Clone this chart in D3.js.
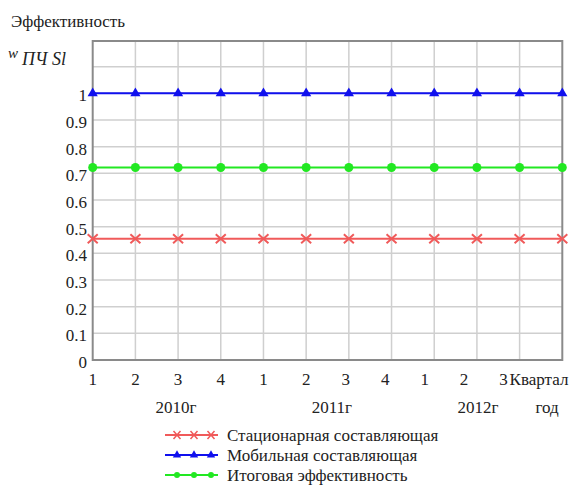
<!DOCTYPE html>
<html><head><meta charset="utf-8">
<script src="https://cdn.jsdelivr.net/npm/d3@7"></script>
<style>body{margin:0;background:#fff}svg{display:block}svg text,svg tspan{font-family:'Liberation Serif','Times New Roman',serif !important}</style>
</head><body>
<svg id="c" width="587" height="495"></svg>
<script>
// ---- data ----
const periods = [1,2,3,4,5,6,7,8,9,10,11,12];
const quarterLabels = ["1","2","3","4","1","2","3","4","1","2","3"];
const yearLabels = ["2010г","2011г","2012г"];
const yTicks = [0,0.1,0.2,0.3,0.4,0.5,0.6,0.7,0.8,0.9,1];
const stationary = [0.455,0.455,0.455,0.455,0.455,0.455,0.455,0.455,0.455,0.455,0.455,0.455];
const mobile = [1,1,1,1,1,1,1,1,1,1,1,1];
const total = [0.722,0.722,0.722,0.722,0.722,0.722,0.722,0.722,0.722,0.722,0.722,0.722];
const seriesNames = ["Стационарная составляющая","Мобильная составляющая","Итоговая эффективность"];

const svg = d3.select("#c");
const FF = "'Liberation Serif', 'Times New Roman', serif";
const L=92.7,R=562.3,T=41,B=360;
const x = d3.scaleLinear().domain([1,12]).range([L,R]);
const y = d3.scaleLinear().domain([0,1.2]).range([B,40]);
const TXT="#222";
function txt(sel){ return sel.attr("font-family",FF).style("font-family",FF,"important").attr("fill",TXT); }

// grid
const grid = svg.append("g").attr("stroke","#cfcfcf").attr("stroke-width",1.5);
grid.selectAll("line.v").data(periods.slice(1,11)).enter().append("line")
  .attr("x1",d=>x(d)).attr("x2",d=>x(d)).attr("y1",T).attr("y2",B);
grid.selectAll("line.h").data(d3.range(1,12).map(i=>i/10)).enter().append("line")
  .attr("x1",L).attr("x2",R).attr("y1",d=>y(d)).attr("y2",d=>y(d));

// frame
svg.append("rect").attr("x",L).attr("y",T).attr("width",R-L).attr("height",B-T)
  .attr("fill","none").attr("stroke","#8a8a8a").attr("stroke-width",2);

// title
txt(svg.append("text").attr("x",11).attr("y",27).attr("font-size",17)).text("Эффективность");

// y tick labels
txt(svg.append("g").selectAll("text").data(yTicks).enter().append("text")
  .attr("x",87).attr("y",d=>y(d)+8).attr("text-anchor","end")
  .attr("font-size",17)).text(d=>d===0||d===1?String(d):d3.format(".1f")(d));

// x labels (manually spaced row like original)
const lab = d3.scaleLinear().domain([1,6,11]).range([x(1),x(6),x(11)-16]);
txt(svg.append("g").selectAll("text").data(quarterLabels).enter().append("text")
  .attr("x",(d,i)=>lab(i+1)).attr("y",385).attr("text-anchor","middle")
  .attr("font-size",17)).text(d=>d);
txt(svg.append("text").attr("x",lab(11)+6).attr("y",385).attr("font-size",17)).text("Квартал");
const yearPos=[2.95,6.65,10.35];
txt(svg.append("g").selectAll("text").data(yearLabels).enter().append("text")
  .attr("x",(d,i)=>lab(yearPos[i])).attr("y",413).attr("text-anchor","middle")
  .attr("font-size",17)).text(d=>d);
txt(svg.append("text").attr("x",547).attr("y",413).attr("text-anchor","middle").attr("font-size",17)).text("год");

// axis name
const wl = txt(svg.append("text").attr("x",8).attr("y",58).attr("font-style","italic"));
wl.append("tspan").attr("font-size",15).text("w");
wl.append("tspan").attr("font-size",18).attr("dx",4).attr("dy",7).text("ПЧ Sl");

// series
const colors = ["#f05a5a","#1010ee","#22e822"];
const allSeries = [stationary,mobile,total];
const line = d3.line().x((d,i)=>x(periods[i])).y(d=>y(d));
function marker(g,type,color,cx,cy){
  if(type===0){
    g.append("path").attr("d",`M${cx-5},${cy-4.5}L${cx+5},${cy+4.5}M${cx-5},${cy+4.5}L${cx+5},${cy-4.5}`)
     .attr("stroke",color).attr("stroke-width",2).attr("fill","none");
  } else if(type===1){
    g.append("path").attr("d",d3.symbol(d3.symbolTriangle,45)()).attr("transform",`translate(${cx},${cy})`).attr("fill",color);
  } else {
    g.append("circle").attr("cx",cx).attr("cy",cy).attr("r",4.5).attr("fill",color);
  }
}
allSeries.forEach((s,k)=>{
  const g = svg.append("g");
  g.append("path").datum(s).attr("d",line).attr("fill","none").attr("stroke",colors[k]).attr("stroke-width",2);
  s.forEach((v,i)=>marker(g,k,colors[k],x(periods[i]),y(v)));
});

// legend
seriesNames.forEach((n,k)=>{
  const yy = 435+k*20;
  const g = svg.append("g");
  g.append("line").attr("x1",165).attr("x2",218).attr("y1",yy).attr("y2",yy).attr("stroke",colors[k]).attr("stroke-width",2);
  [177,194,211].forEach(cx=>{
    if(k===0){
      g.append("path").attr("d",`M${cx-3.5},${yy-4}L${cx+3.5},${yy+4}M${cx-3.5},${yy+4}L${cx+3.5},${yy-4}`).attr("stroke",colors[k]).attr("stroke-width",1.5);
    } else if(k===1){
      g.append("path").attr("d",d3.symbol(d3.symbolTriangle,30)()).attr("transform",`translate(${cx},${yy})`).attr("fill",colors[k]);
    } else g.append("circle").attr("cx",cx).attr("cy",yy).attr("r",3).attr("fill",colors[k]);
  });
  txt(g.append("text").attr("x",227).attr("y",yy+6).attr("font-size",17)).text(n);
});
</script>
</body></html>
